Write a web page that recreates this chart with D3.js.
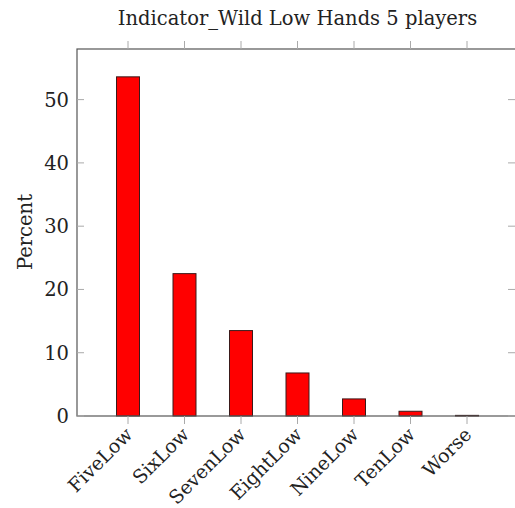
<!DOCTYPE html>
<html><head><meta charset="utf-8">
<script src="https://cdn.jsdelivr.net/npm/d3@7"></script>
<style>body{margin:0;background:#fff}svg{display:block}</style>
</head><body>
<script>
const categories = ["FiveLow","SixLow","SevenLow","EightLow","NineLow","TenLow","Worse"];
const values = [53.6, 22.5, 13.5, 6.8, 2.7, 0.75, 0.1];
const yTicks = [0, 10, 20, 30, 40, 50];
const title = "Indicator_Wild Low Hands 5 players";
const yLabel = "Percent";

(function () {
const W = 515, H = 508;
const pL = 77, pR = 518, pT = 49, pB = 416;
const font = "'DejaVu Serif', serif";

const svg = d3.select("body").append("svg").attr("width", W).attr("height", H);

const x = d3.scalePoint().domain(categories).range([pL + 51, pR - 51]);
const y = d3.scaleLinear().domain([0, 58]).range([pB, pT]);

svg.append("g").selectAll("rect").data(values).join("rect")
  .attr("x", (d, i) => x(categories[i]) - 11.5)
  .attr("width", 23)
  .attr("y", d => y(d))
  .attr("height", d => y(0) - y(d))
  .attr("fill", "#ff0000")
  .attr("stroke", "#3a1a1a")
  .attr("stroke-width", 1);

svg.append("rect").attr("x", pL).attr("y", pT).attr("width", pR - pL).attr("height", pB - pT)
  .attr("fill", "none").attr("stroke", "#555").attr("stroke-width", 1.2);

const yg = svg.append("g");
yg.selectAll("line.l").data(yTicks).join("line").attr("class","l")
  .attr("x1", pL).attr("x2", pL + 7).attr("y1", d => y(d)).attr("y2", d => y(d))
  .attr("stroke", "#aaa");
yg.selectAll("line.r").data(yTicks).join("line").attr("class","r")
  .attr("x1", pR - 10).attr("x2", pR).attr("y1", d => y(d)).attr("y2", d => y(d))
  .attr("stroke", "#aaa");
yg.selectAll("text").data(yTicks).join("text")
  .attr("x", pL - 8).attr("y", d => y(d)).attr("dy", "0.36em")
  .attr("text-anchor", "end").attr("font-family", font).attr("font-size", 19.5)
  .attr("fill", "#222").text(d => d);

const xg = svg.append("g");
xg.selectAll("line.b").data(categories).join("line").attr("class","b")
  .attr("x1", d => x(d)).attr("x2", d => x(d)).attr("y1", pB).attr("y2", pB + 8)
  .attr("stroke", "#aaa");
xg.selectAll("line.t").data(categories).join("line").attr("class","t")
  .attr("x1", d => x(d)).attr("x2", d => x(d)).attr("y1", pT - 8).attr("y2", pT)
  .attr("stroke", "#aaa");
xg.selectAll("text").data(categories).join("text")
  .attr("transform", d => `translate(${x(d) + 1},${pB + 15}) rotate(-45)`)
  .attr("text-anchor", "end").attr("dy", "0.35em")
  .attr("font-family", font).attr("font-size", 19).attr("fill", "#222").text(d => d);

svg.append("text").attr("x", 297.5).attr("y", 25).attr("text-anchor", "middle")
  .attr("font-family", font).attr("font-size", 19.5).attr("fill", "#222").text(title);

svg.append("text").attr("transform", `translate(32,232) rotate(-90)`).attr("text-anchor", "middle")
  .attr("font-family", font).attr("font-size", 19.5).attr("fill", "#222").text(yLabel);
})();
</script>
</body></html>
